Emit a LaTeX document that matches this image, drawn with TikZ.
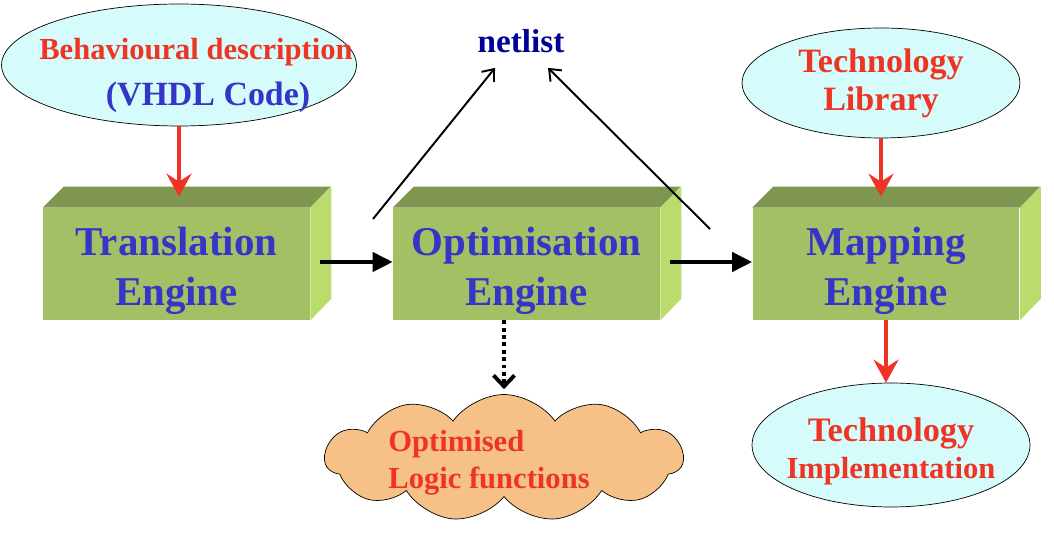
\documentclass[tikz,border=0pt]{standalone}
\usepackage{fontspec}
\setmainfont{Liberation Serif}
\usepackage{xcolor}
\usetikzlibrary{arrows.meta, shapes.geometric, shapes.symbols}

\definecolor{frontgreen}{HTML}{A3C164}
\definecolor{topgreen}{HTML}{7F9650}
\definecolor{sidegreen}{HTML}{BADC6C}
\definecolor{ellcyan}{HTML}{D5FBFB}
\definecolor{cloudpeach}{HTML}{F5C187}
\definecolor{txtblue}{HTML}{3535C8}
\definecolor{txtred}{HTML}{EE3424}
\definecolor{netblue}{HTML}{000099}

\newcommand{\sz}[1]{\fontsize{#1}{20}\selectfont}

\begin{document}
\begin{tikzpicture}[
                        x = 0.02cm, y = -0.02cm,
                        font       = \bfseries,
                        engine/.style = {fill=frontgreen, inner sep=0pt, align=center,
                                    minimum width=5.34cm, minimum height=2.24cm,
                                    text=txtblue, font=\fontsize{23.3}{28}\bfseries\selectfont},
                        topface/.style  = {fill=topgreen},
                        sideface/.style = {fill=sidegreen},
                        bubble/.style = {ellipse, draw, thin, fill=ellcyan, inner xsep=-1cm, inner ysep=-0.5cm,
                                    align=center, text=txtred, font=\bfseries},
                        flow/.style = {-{Triangle[length=0.4cm, width=0.38cm]}, line width=2.3pt},
                        feed/.style = {-{Stealth[length=0.46cm, width=0.5cm, inset=0.16cm]}, line width=2.2pt, txtred},
                        netout/.style  = {-{Straight Barb[length=0.2cm, width=0.32cm]}, line width=1.1pt},
                        dotarrow/.style = {-{Straight Barb[length=0.22cm, width=0.42cm]}, line width=2.2pt, dotted}
                  ]
                  \useasboundingbox (0,0) rectangle (1054,536);

                  % engines
                  \node[engine] (trans) at (176.5,264) {\rule{0pt}{24pt}Translation\\Engine};
                  \node[engine] (opt)   at (526.5,264) {\rule{0pt}{24pt}Optimisation\\Engine};
                  \node[engine] (map)   at (886,264)   {\rule{0pt}{24pt}Mapping\\Engine};
                  \foreach \n in {trans, opt, map} {
                        \fill[topface]  (\n.north west) -- ++(21,-21) -- ++(267,0) -- (\n.north east) -- cycle;
                        \fill[sideface] (\n.north east) -- ++(21,-21) -- ++(0,112) -- (\n.south east) -- cycle;
                  }

                  % inputs and outputs
                  \node[bubble, minimum width=7.1cm, minimum height=2.44cm] (behav) at (179,65)
                        {\rule{0pt}{24pt}\hspace*{0.68cm}\sz{17.4}Behavioural description\\[8.5pt]
                         \hspace*{1.16cm}{\sz{19.3}\color{txtblue}(VHDL Code)}};
                  \node[bubble, minimum width=5.56cm, minimum height=2.2cm] (techlib) at (881,83)
                        {\sz{19.4}Technology\\[3pt]\sz{19.4}Library};
                  \node[bubble, minimum width=5.56cm, minimum height=2.48cm] (techimp) at (891,445)
                        {\rule{0pt}{21pt}\sz{19.5}Technology\\[4pt]\sz{17.4}Implementation};
                  \node[cloud, cloud puffs=11, cloud puff arc=110, cloud ignores aspect, draw, thin, fill=cloudpeach,
                        inner xsep=-0.5cm, inner ysep=-0.4cm, minimum width=7.16cm, minimum height=2.54cm,
                        align=left, text=txtred, font=\fontsize{17.4}{21}\bfseries\selectfont] (logic) at (504,458)
                        {\rule{0pt}{18pt}Optimised\\Logic functions\hspace*{0.6cm}};
                  \node[text=netblue, font=\fontsize{18.9}{20}\bfseries\selectfont] (netlist) at (521,41) {netlist};

                  \coordinate (nl1) at (373,219);
                  \coordinate (nl2) at (710,229);

                  \draw[feed] (behav.south) -- ([yshift=0.22cm]trans.north -| behav.south);
                  \draw[feed] (techlib.south) -- ([yshift=0.22cm]map.north -| techlib.south);
                  \draw[feed] (map.south) -- (map.south |- techimp.north);
                  \draw[flow] ([xshift=0.2cm, yshift=0.04cm]trans.east) -- ([yshift=0.04cm]opt.west);
                  \draw[flow] ([xshift=0.2cm, yshift=0.04cm]opt.east) -- ([yshift=0.04cm]map.west);
                  \draw[netout]  (nl1) -- ([xshift=-0.52cm, yshift=-0.18cm]netlist.south);
                  \draw[netout]  (nl2) -- ([xshift=0.54cm, yshift=-0.18cm]netlist.south);
                  \draw[dotarrow] (opt.south -| logic.north) -- ([yshift=0.1cm]logic.north);
\end{tikzpicture}
\end{document}
